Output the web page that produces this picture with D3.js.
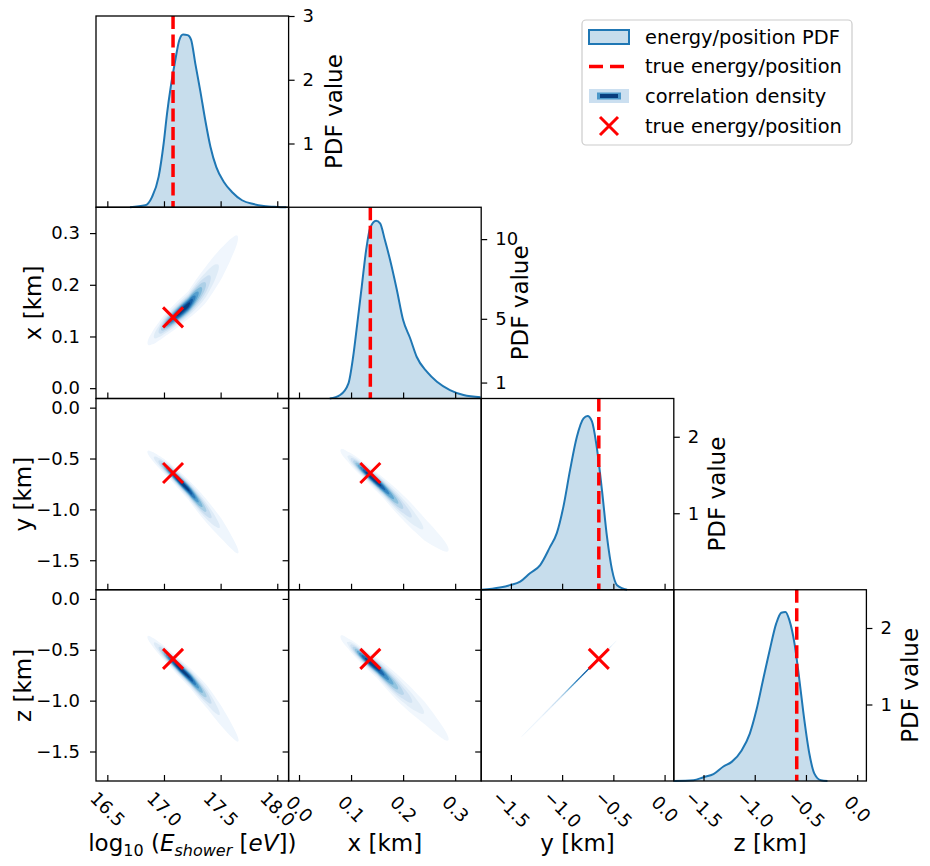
<!DOCTYPE html>
<html>
<head>
<meta charset="utf-8">
<script src="https://cdn.jsdelivr.net/npm/d3@7"></script>
<style>
  body { margin: 0; background: #fff; }
  svg { display: block; }
  text { font-family: "DejaVu Sans", sans-serif; fill: #000; }
</style>
</head>
<body>
<svg id="chart" width="930" height="866"></svg>
<script>
// ---------------- marginal PDFs (value grid + density) ----------------
const energyGrid = [16.70, 16.835, 16.894, 16.953, 16.997, 17.027, 17.06, 17.10, 17.135, 17.168, 17.209, 17.239, 17.277, 17.32, 17.365, 17.41, 17.462, 17.527, 17.60, 17.689, 17.79, 17.88, 18.0, 18.08];
const energyPdf  = [0, 0.03, 0.16, 0.48, 1.0, 1.47, 1.89, 2.31, 2.62, 2.71, 2.70, 2.63, 2.25, 1.83, 1.36, 0.95, 0.63, 0.40, 0.24, 0.11, 0.05, 0.02, 0.005, 0];

const xGrid = [0.059, 0.079, 0.095, 0.104, 0.112, 0.1205, 0.129, 0.1365, 0.148, 0.1558, 0.165, 0.175, 0.188, 0.200, 0.2135, 0.226, 0.2455, 0.265, 0.290, 0.316, 0.349];
const xPdf  = [0, 0.22, 0.95, 2.62, 4.72, 7.01, 9.32, 10.68, 11.15, 10.99, 9.94, 8.69, 6.81, 4.92, 3.78, 2.62, 1.68, 1.05, 0.53, 0.22, 0.08];

const yGrid = [-1.787, -1.608, -1.51, -1.41, -1.314, -1.216, -1.118, -1.052, -0.987, -0.922, -0.856, -0.791, -0.752, -0.709, -0.667, -0.611, -0.562, -0.513, -0.464, -0.366];
const yPdf  = [0, 0.03, 0.06, 0.105, 0.215, 0.32, 0.56, 0.74, 1.09, 1.57, 2.0, 2.24, 2.27, 2.2, 1.91, 1.3, 0.69, 0.26, 0.06, 0];

const zGrid = [-1.79, -1.597, -1.5, -1.403, -1.306, -1.225, -1.128, -1.048, -0.983, -0.919, -0.854, -0.79, -0.741, -0.70, -0.661, -0.612, -0.564, -0.516, -0.467, -0.419, -0.354, -0.29];
const zPdf  = [0, 0.01, 0.05, 0.09, 0.19, 0.25, 0.40, 0.62, 0.93, 1.32, 1.71, 2.06, 2.2, 2.21, 2.1, 1.8, 1.32, 0.80, 0.36, 0.10, 0.01, 0];

// ---------------- true event parameters ----------------
const trueEnergy = 17.08, trueX = 0.137, trueY = -0.642, trueZ = -0.59;

// ---------------- correlation ridges: stations, ridge centre, conditional spread ----------------
const exStations = [16.88, 17.01, 17.215, 17.365, 17.515, 17.64];
const exRidge    = [0.093, 0.122, 0.161, 0.199, 0.244, 0.286];
const exSpread   = [0.009, 0.009, 0.010, 0.016, 0.021, 0.020];

const eyStations = [16.88, 17.056, 17.215, 17.365, 17.515, 17.656];
const eyRidge    = [-0.46, -0.628, -0.806, -1.003, -1.2, -1.417];
const eySpread   = [0.03, 0.03, 0.037, 0.052, 0.066, 0.066];

const xyStations = [0.085, 0.127, 0.1615, 0.204, 0.242, 0.283];
const xyRidge    = [-0.444, -0.628, -0.786, -1.003, -1.2, -1.377];
const xySpread   = [0.03, 0.03, 0.037, 0.058, 0.072, 0.072];

const ezStations = [16.88, 17.056, 17.233, 17.383, 17.515, 17.647];
const ezRidge    = [-0.403, -0.591, -0.78, -0.967, -1.165, -1.373];
const ezSpread   = [0.03, 0.03, 0.037, 0.052, 0.066, 0.066];

const xzStations = [0.085, 0.121, 0.15, 0.194, 0.242, 0.281];
const xzRidge    = [-0.396, -0.56, -0.68, -0.897, -1.125, -1.343];
const xzSpread   = [0.03, 0.03, 0.037, 0.058, 0.072, 0.072];

const yzStations = [-1.353, -0.745, -0.461];
const yzRidge    = [-1.311, -0.692, -0.403];
const yzSpread   = [0.006, 0.005, 0.0032];

// ---------------- axes: limits, ticks, labels ----------------
const energyLimits = [16.4, 18.1];
const posXLimits = [-0.02, 0.35];
const posYLimits = [-1.79, 0.09];
const posZLimits = [-1.79, 0.09];

const energyTicks = [16.5, 17.0, 17.5, 18.0];
const posXTicks = [0.0, 0.1, 0.2, 0.3];
const posYTicks = [-1.5, -1.0, -0.5, 0.0];
const posZTicks = [-1.5, -1.0, -0.5, 0.0];

const energyPdfMax = 3, xPdfMax = 12, yPdfMax = 2.5, zPdfMax = 2.5;
const energyPdfTicks = [1, 2, 3];
const xPdfTicks = [1, 5, 10];
const yPdfTicks = [1, 2];
const zPdfTicks = [1, 2];

const legendLabels = ["energy/position PDF", "true energy/position", "correlation density", "true energy/position"];

// ---------------- layout ----------------
const svg = d3.select("#chart");
const gridLeft = 96, gridTop = 16, cellW = 192.6, cellH = 191.25;
const colX = i => gridLeft + i * cellW;
const rowY = j => gridTop + j * cellH;
const BLUE = "#1f77b4", RED = "#ff0000";
const fmt = d3.format(".1f");

const vars = [
  { key: "E", lim: energyLimits, ticks: energyTicks, grid: energyGrid, pdf: energyPdf, pdfMax: energyPdfMax, pdfTicks: energyPdfTicks, truth: trueEnergy, fmt: fmt },
  { key: "x", lim: posXLimits, ticks: posXTicks, grid: xGrid, pdf: xPdf, pdfMax: xPdfMax, pdfTicks: xPdfTicks, truth: trueX, fmt: fmt, label: "x [km]" },
  { key: "y", lim: posYLimits, ticks: posYTicks, grid: yGrid, pdf: yPdf, pdfMax: yPdfMax, pdfTicks: yPdfTicks, truth: trueY, fmt: fmt, label: "y [km]" },
  { key: "z", lim: posZLimits, ticks: posZTicks, grid: zGrid, pdf: zPdf, pdfMax: zPdfMax, pdfTicks: zPdfTicks, truth: trueZ, fmt: fmt, label: "z [km]" }
];
const n = vars.length;
const sxs = vars.map((v, i) => d3.scaleLinear().domain(v.lim).range([colX(i), colX(i) + cellW]));
const sys = vars.map((v, j) => d3.scaleLinear().domain(v.lim).range([rowY(j) + cellH, rowY(j)]));

const ridges = {
  "1,0": [exStations, exRidge, exSpread],
  "2,0": [eyStations, eyRidge, eySpread],
  "2,1": [xyStations, xyRidge, xySpread],
  "3,0": [ezStations, ezRidge, ezSpread],
  "3,1": [xzStations, xzRidge, xzSpread],
  "3,2": [yzStations, yzRidge, yzSpread]
};

const defs = svg.append("defs");

function interp(xs, ys, u, extrapolate) {
  const k = d3.bisectRight(xs, u);
  if (k <= 0) return extrapolate ? ys[0] + (u - xs[0]) * (ys[1] - ys[0]) / (xs[1] - xs[0]) : ys[0];
  if (k >= xs.length) {
    const m = xs.length - 1;
    return extrapolate ? ys[m] + (u - xs[m]) * (ys[m] - ys[m - 1]) / (xs[m] - xs[m - 1]) : ys[m];
  }
  const t = (u - xs[k - 1]) / (xs[k] - xs[k - 1]);
  return ys[k - 1] + t * (ys[k] - ys[k - 1]);
}
function pdfAt(v, u) {
  if (u < v.grid[0] || u > v.grid[v.grid.length - 1]) return 0;
  return interp(v.grid, v.pdf, u, false);
}

// filled iso-proportion density contours for one off-diagonal panel
function drawDensity(g, row, col, step) {
  const [stations, ridge, spread] = ridges[row + "," + col];
  const sx = sxs[col], sy = sys[row], vu = vars[col];
  const x0 = sx.range()[0], y0 = sy.range()[1];
  const nx = Math.ceil(cellW / step), ny = Math.ceil(cellH / step);
  const values = new Float64Array(nx * ny);
  for (let i = 0; i < nx; i++) {
    const u = sx.invert(x0 + (i + 0.5) * step);
    const p = pdfAt(vu, u);
    const r = interp(stations, ridge, u, true);
    const s = interp(stations, spread, u, false);
    for (let j = 0; j < ny; j++) {
      const v = sy.invert(y0 + (j + 0.5) * step);
      const d = (v - r) / s;
      values[i + j * nx] = p / s * Math.exp(-0.5 * d * d);
    }
  }
  const sorted = Array.from(values).sort((a, b) => b - a);
  const total = d3.sum(sorted);
  const cum = [];
  let acc = 0;
  for (const s of sorted) { acc += s; cum.push(acc / total); }
  const props = d3.range(10).map(k => 0.05 + k * 0.95 / 9);
  const levels = props.map(q => {
    const idx = Math.min(d3.bisectLeft(cum, 1 - q), sorted.length - 1);
    return sorted[idx];
  });
  const lo = levels[0], hi = levels[levels.length - 1];
  const thresholds = levels.slice(0, -1);
  const contours = d3.contours().size([nx, ny]).thresholds(thresholds)(values);
  const clipId = `clip-${row}-${col}`;
  defs.append("clipPath").attr("id", clipId)
    .append("rect").attr("x", x0).attr("y", y0).attr("width", cellW).attr("height", cellH);
  const layer = g.append("g").attr("clip-path", `url(#${clipId})`)
    .append("g").attr("transform", `translate(${x0},${y0}) scale(${step})`);
  layer.selectAll("path").data(contours).join("path")
    .attr("d", d3.geoPath())
    .attr("fill", (c, k) => d3.interpolateBlues(((levels[k] + levels[k + 1]) / 2 - lo) / (hi - lo)))
    .attr("stroke", "none");
}

function drawCross(g, cx, cy, r) {
  g.append("path")
    .attr("d", `M${cx - r},${cy - r}L${cx + r},${cy + r}M${cx - r},${cy + r}L${cx + r},${cy - r}`)
    .attr("stroke", RED).attr("stroke-width", 3).attr("fill", "none");
}

function styleAxis(sel, size) {
  sel.select(".domain").remove();
  sel.attr("font-family", null).attr("font-size", null);
  sel.selectAll(".tick line").attr("stroke", "#000").attr("stroke-width", 1.2);
  sel.selectAll(".tick text").attr("font-size", size).attr("fill", "#000");
}

const plot = svg.append("g");

for (let row = 0; row < n; row++) {
  for (let col = 0; col <= row; col++) {
    const g = plot.append("g");
    const x0 = colX(col), y0 = rowY(row);
    if (row === col) {
      const v = vars[row];
      const sx = sxs[col];
      const sp = d3.scaleLinear().domain([0, v.pdfMax]).range([y0 + cellH, y0]);
      const pts = v.grid.map((u, k) => [u, v.pdf[k]]);
      g.append("path").datum(pts)
        .attr("d", d3.area().x(d => sx(d[0])).y0(sp(0)).y1(d => sp(d[1])).curve(d3.curveMonotoneX))
        .attr("fill", BLUE).attr("fill-opacity", 0.25);
      g.append("path").datum(pts)
        .attr("d", d3.line().x(d => sx(d[0])).y(d => sp(d[1])).curve(d3.curveMonotoneX))
        .attr("fill", "none").attr("stroke", BLUE).attr("stroke-width", 2);
      g.append("line")
        .attr("x1", sx(v.truth)).attr("x2", sx(v.truth))
        .attr("y1", y0).attr("y2", y0 + cellH)
        .attr("stroke", RED).attr("stroke-width", 3.5).attr("stroke-dasharray", "13,5.5");
      // right-hand PDF axis
      const ax = g.append("g").attr("transform", `translate(${x0 + cellW},0)`)
        .call(d3.axisRight(sp).tickValues(v.pdfTicks).tickSize(6).tickPadding(8).tickFormat(d3.format("d")));
      styleAxis(ax, 18);
    } else {
      drawDensity(g, row, col, row === 3 && col === 2 ? 0.4 : 1);
      drawCross(g, sxs[col](vars[col].truth), sys[row](vars[row].truth), 10);
      const ay = g.append("g").attr("transform", `translate(${x0},0)`)
        .call(d3.axisLeft(sys[row]).tickValues(vars[row].ticks).tickSize(6).tickPadding(10)
          .tickFormat(col === 0 ? vars[row].fmt : () => ""));
      styleAxis(ay, 18);
    }
    // bottom ticks (pointing inward)
    const axb = g.append("g").attr("transform", `translate(0,${y0 + cellH})`)
      .call(d3.axisBottom(sxs[col]).tickValues(vars[col].ticks).tickSize(-6)
        .tickFormat(row === n - 1 ? vars[col].fmt : () => ""));
    styleAxis(axb, 18);
    if (row === n - 1) {
      axb.selectAll(".tick text")
        .attr("y", null).attr("dy", null)
        .attr("text-anchor", "middle").attr("dominant-baseline", "central")
        .attr("transform", "translate(0,28) rotate(45)");
    }
    // frame
    g.append("rect").attr("x", x0).attr("y", y0).attr("width", cellW).attr("height", cellH)
      .attr("fill", "none").attr("stroke", "#000").attr("stroke-width", 1.3);
  }
}

// ---------------- axis titles ----------------
const labelSize = 23;
const pdfLabelX = [341.7, 528, 725, 918];
vars.forEach((v, i) => {
  svg.append("text")
    .attr("transform", `translate(${pdfLabelX[i]},${rowY(i) + cellH / 2}) rotate(-90)`)
    .attr("text-anchor", "middle").attr("font-size", labelSize)
    .text("PDF value");
});
const leftLabelX = [0, 40.5, 31, 31];
vars.forEach((v, j) => {
  if (j === 0) return;
  svg.append("text")
    .attr("transform", `translate(${leftLabelX[j]},${rowY(j) + cellH / 2}) rotate(-90)`)
    .attr("text-anchor", "middle").attr("font-size", labelSize)
    .text(v.label);
});
vars.forEach((v, i) => {
  if (i === 0) return;
  svg.append("text")
    .attr("x", colX(i) + cellW / 2).attr("y", 851)
    .attr("text-anchor", "middle").attr("font-size", labelSize)
    .text(v.label);
});
const eLabel = svg.append("text")
  .attr("x", colX(0) + cellW / 2).attr("y", 851)
  .attr("text-anchor", "middle").attr("font-size", labelSize);
eLabel.append("tspan").text("log");
eLabel.append("tspan").attr("font-size", 16).attr("dy", 5).text("10");
eLabel.append("tspan").attr("dy", -5).text("\u00a0(");
eLabel.append("tspan").attr("font-style", "italic").text("E");
eLabel.append("tspan").attr("font-style", "italic").attr("font-size", 16).attr("dy", 5).text("shower");
eLabel.append("tspan").attr("dy", -5).text("\u00a0[");
eLabel.append("tspan").attr("font-style", "italic").text("eV");
eLabel.append("tspan").text("])");

// ---------------- legend ----------------
const lg = svg.append("g");
lg.append("rect").attr("x", 582).attr("y", 20).attr("width", 270).attr("height", 125).attr("rx", 4)
  .attr("fill", "#fff").attr("fill-opacity", 0.8).attr("stroke", "#cccccc").attr("stroke-width", 1.2);
const rowsY = [37, 66.5, 96, 126];
lg.append("rect").attr("x", 589).attr("y", rowsY[0] - 7).attr("width", 40).attr("height", 14)
  .attr("fill", BLUE).attr("fill-opacity", 0.25).attr("stroke", BLUE).attr("stroke-width", 2);
lg.append("line").attr("x1", 589).attr("x2", 625).attr("y1", rowsY[1]).attr("y2", rowsY[1])
  .attr("stroke", RED).attr("stroke-width", 3.5).attr("stroke-dasharray", "14,7");
[[589, 7, 40, 0.22], [597, 3.5, 24, 0.6], [600, 2, 18, 0.95]].forEach(([x, hh, w, t]) => {
  lg.append("rect").attr("x", x).attr("y", rowsY[2] - hh).attr("width", w).attr("height", 2 * hh)
    .attr("fill", d3.interpolateBlues(t));
});
drawCross(lg, 609, rowsY[3], 9);
legendLabels.forEach((t, k) => {
  lg.append("text").attr("x", 645).attr("y", rowsY[k]).attr("dominant-baseline", "central")
    .attr("font-size", 19.4).text(t);
});
</script>
</body>
</html>
